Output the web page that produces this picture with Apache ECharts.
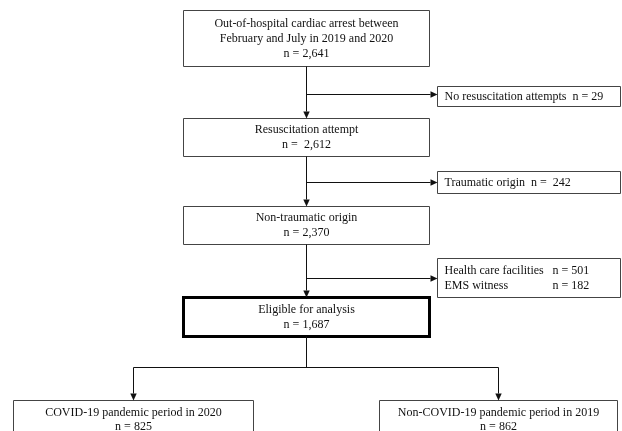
<!DOCTYPE html>
<html><head><meta charset="utf-8">
<script src="https://cdn.jsdelivr.net/npm/echarts@6/dist/echarts.min.js"></script>
<style>html,body{margin:0;padding:0;background:#fff}#c{width:622px;height:431px}</style>
</head><body><div id="c"></div>
<script>
// ---- data ----
const stageLabels = [
  ['Out-of-hospital cardiac arrest between', 'February and July in 2019 and 2020'],
  ['Resuscitation attempt'],
  ['Non-traumatic origin'],
  ['Eligible for analysis']
];
const stageCounts = [2641, 2612, 2370, 1687];
const exclusionLabels = [
  ['No resuscitation attempts'],
  ['Traumatic origin'],
  ['Health care facilities', 'EMS witness']
];
const exclusionCounts = [[29], [242], [501, 182]];
const groupLabels = ['COVID-19 pandemic period in 2020', 'Non-COVID-19 pandemic period in 2019'];
const groupCounts = [825, 862];

// ---- layout (chart units) ----
const FONT = '12px "Liberation Serif", "Times New Roman", serif';
const LH = 15;
const cx = 306.5;
const mainBoxes = [[183.5, 10.5, 429.5, 66.5], [183.5, 118.5, 429.5, 156.5], [183.5, 206.5, 429.5, 244.5], [183.5, 297.5, 429.5, 336.5]];
const nSep = [' = ', ' =  ', ' = ', ' = '];
const sideBoxes = [[437.5, 86.5, 620.5, 106.5], [437.5, 171.5, 620.5, 193.5], [437.5, 258.5, 620.5, 297.5]];
const sideSep = ['  n = ', '  n =  ', '  n = '];
const branchY = [94.5, 182.5, 278.5];
const groupBoxes = [[13.5, 400.5, 253.5, 445.5], [379.5, 400.5, 617.5, 445.5]];
const groupX = [133.5, 498.5];
const splitY = 367.5;

const fmt = n => n.toLocaleString('en-US');

const items = [];
mainBoxes.forEach((b, i) => {
  const lines = stageLabels[i].concat(['n' + nSep[i] + fmt(stageCounts[i])]);
  const cy = (b[1] + b[3]) / 2;
  items.push({kind: 'box', b, lw: i === 3 ? 3 : 1, stroke: i === 3 ? '#000' : '#444',
    texts: lines.map((s, k) => ({s, x: cx, y: cy + (k - (lines.length - 1) / 2) * LH, align: 'center'}))});
});
sideBoxes.forEach((b, i) => {
  const cy = (b[1] + b[3]) / 2;
  const labs = exclusionLabels[i];
  const texts = [];
  if (labs.length === 1) {
    texts.push({s: labs[0] + sideSep[i] + fmt(exclusionCounts[i][0]), x: b[0] + 7, y: cy, align: 'left'});
  } else {
    labs.forEach((s, k) => {
      const y = cy + (k - (labs.length - 1) / 2) * LH;
      texts.push({s, x: b[0] + 7, y, align: 'left'});
      texts.push({s: 'n = ' + fmt(exclusionCounts[i][k]), x: b[0] + 115, y, align: 'left'});
    });
  }
  items.push({kind: 'box', b, lw: 1, stroke: '#444', texts});
});
groupBoxes.forEach((b, i) => {
  const lines = [groupLabels[i], 'n = ' + fmt(groupCounts[i])];
  items.push({kind: 'box', b, lw: 1, stroke: '#444',
    texts: lines.map((s, k) => ({s, x: groupX[i], y: 413 + k * 14, align: 'center'}))});
});
// connectors
for (let i = 0; i < 3; i++) {
  items.push({kind: 'arrow', pts: [[cx, mainBoxes[i][3]], [cx, mainBoxes[i + 1][1]]]});
  items.push({kind: 'arrow', pts: [[cx, branchY[i]], [sideBoxes[i][0], branchY[i]]]});
}
items.push({kind: 'line', pts: [[cx, mainBoxes[3][3]], [cx, splitY]]});
items.push({kind: 'line', pts: [[groupX[0], splitY], [groupX[1], splitY]]});
groupX.forEach((x, i) => items.push({kind: 'arrow', pts: [[x, splitY], [x, groupBoxes[i][1]]]}));

function renderItem(params, api) {
  const it = items[params.dataIndex];
  if (it.kind === 'box') {
    const a = api.coord([it.b[0], it.b[1]]), c = api.coord([it.b[2], it.b[3]]);
    const ch = [{type: 'rect', shape: {x: a[0], y: a[1], width: c[0] - a[0], height: c[1] - a[1]},
      style: {fill: '#fff', stroke: it.stroke, lineWidth: it.lw}}];
    it.texts.forEach(t => {
      const p = api.coord([t.x, t.y]);
      ch.push({type: 'text', x: p[0], y: p[1], style: {text: t.s, fill: '#111', font: FONT, align: t.align, verticalAlign: 'middle'}});
    });
    return {type: 'group', children: ch};
  }
  const pts = it.pts.map(p => api.coord(p));
  if (it.kind === 'line') {
    return {type: 'polyline', shape: {points: pts}, style: {stroke: '#111', lineWidth: 1, fill: null}};
  }
  const last = pts[pts.length - 1], prev = pts[pts.length - 2];
  const dx = last[0] - prev[0], dy = last[1] - prev[1], L = Math.hypot(dx, dy), ux = dx / L, uy = dy / L;
  const hl = 7, hw = 3.2;
  const base = [last[0] - ux * hl, last[1] - uy * hl];
  const linePts = pts.slice(0, -1).concat([base]);
  return {type: 'group', children: [
    {type: 'polyline', shape: {points: linePts}, style: {stroke: '#111', lineWidth: 1, fill: null}},
    {type: 'polygon', shape: {points: [last, [base[0] - uy * hw, base[1] + ux * hw], [base[0] + uy * hw, base[1] - ux * hw]]}, style: {fill: '#111'}}
  ]};
}

const chart = echarts.init(document.getElementById('c'));
chart.setOption({
  animation: false,
  backgroundColor: '#fff',
  grid: {left: 0, right: 0, top: 0, bottom: 0},
  xAxis: {type: 'value', min: 0, max: 622, show: false},
  yAxis: {type: 'value', min: 0, max: 431, inverse: true, show: false},
  series: [{type: 'custom', renderItem, data: items.map((_, i) => i), clip: false, silent: true}]
});
</script>
</body></html>
